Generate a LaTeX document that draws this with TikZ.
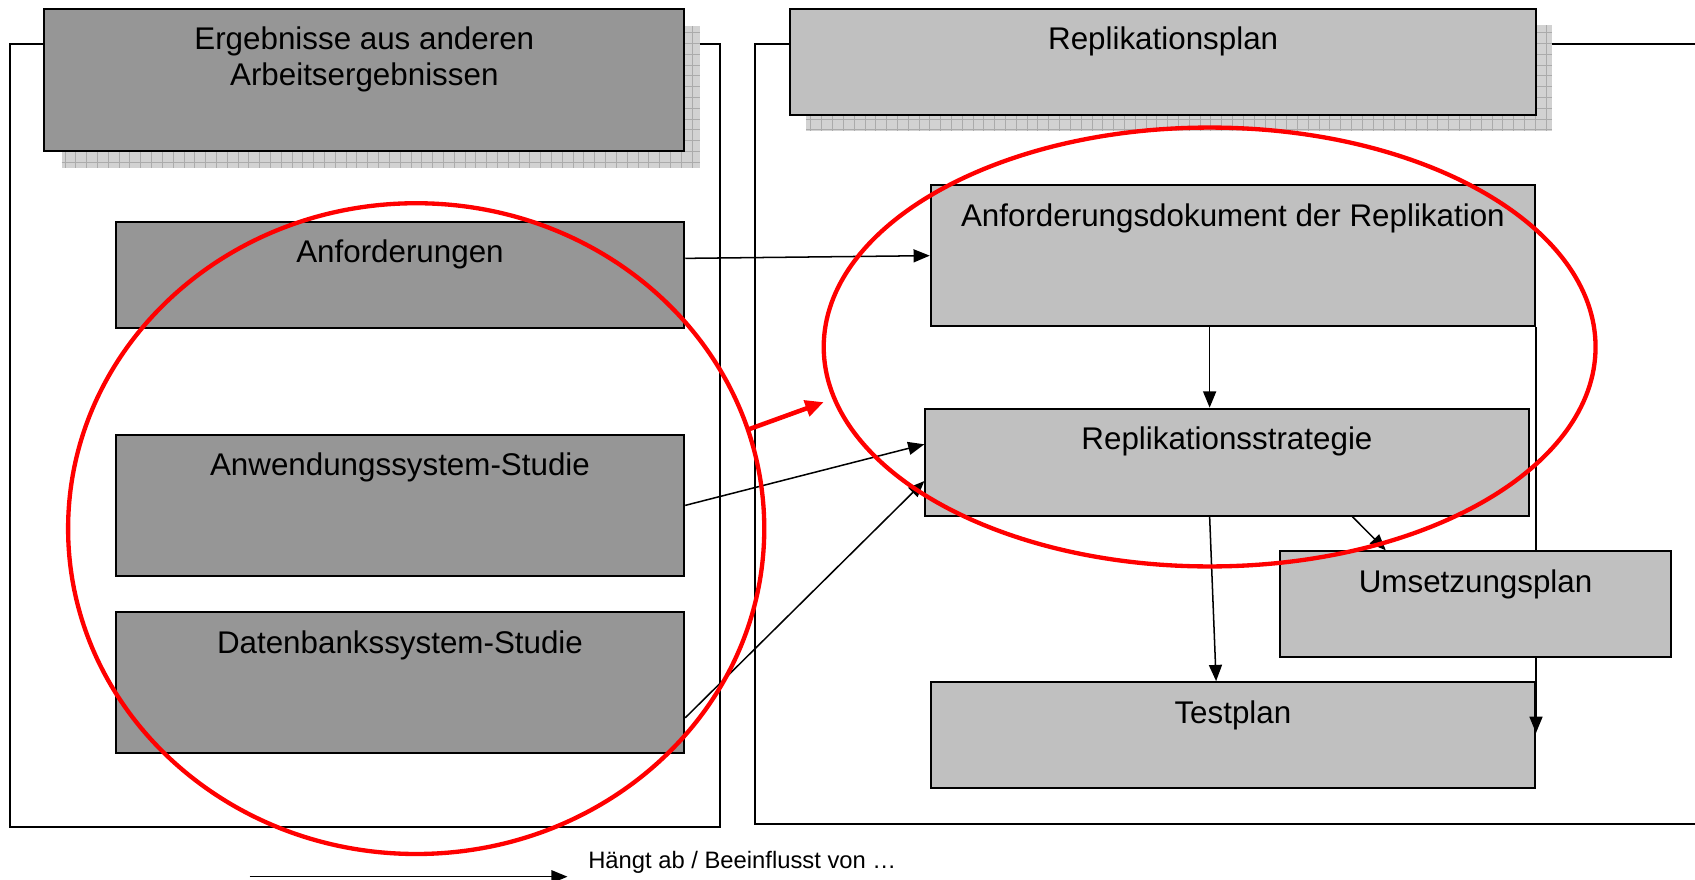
\documentclass[tikz,border=0pt]{standalone}
\usepackage{fontspec}
\setmainfont{Liberation Sans}
\usetikzlibrary{arrows.meta,calc}
\definecolor{dgray}{HTML}{969696}
\definecolor{lgray}{HTML}{C0C0C0}
\definecolor{shd}{HTML}{D2D2D2}
\definecolor{shdline}{HTML}{ABABAB}
\definecolor{myred}{HTML}{FF0000}
\begin{document}
\begin{tikzpicture}[x=1pt,y=-1pt,
  pbox/.style={draw=black, line width=1.8pt, inner sep=0pt, anchor=center},
  darkbox/.style={pbox, fill=dgray},
  lightbox/.style={pbox, fill=lgray},
  cframe/.style={draw=black, line width=1.8pt},
  txt/.style={anchor=north, inner sep=0pt, font=\fontsize{29}{33}\selectfont, align=center},
  conn/.style={draw=black, line width=1.4pt, -{Triangle[length=15pt,width=12pt]}},
  redring/.style={draw=myred, line width=4pt},
  redarrow/.style={draw=myred, line width=4.2pt, -{Triangle[length=17pt,width=15pt]}},
  shadowgrid/.style={draw=shdline, line width=0.5pt}
]
\useasboundingbox (0,0) rectangle (1568,814);
\fill[white] (0,0) rectangle (1568,814);

% container frames
\draw[cframe] (9,41) rectangle (666,765);
\draw[cframe] (1568,41) -- (698,41) -- (698,762) -- (1568,762);

% header shadows
\fill[shd] (57,24) rectangle (648,155);
\draw[shadowgrid, step=10pt] (57,24) grid (648,155);
\fill[shd] (746,23) rectangle (1436,121);
\draw[shadowgrid, step=10pt] (746,23) grid (1436,121);

% headers
\node[darkbox, minimum width=592pt, minimum height=132pt] (hdrL) at (337,74) {};
\node[txt] (hdrLt) at (337,25) {Ergebnisse aus anderen\\Arbeitsergebnissen};
\node[lightbox, minimum width=690pt, minimum height=98pt] (hdrR) at (1076,57) {};
\node[txt] (hdrRt) at (1076,25) {Replikationsplan};

% left boxes
\node[darkbox, minimum width=526pt, minimum height=98pt] (anf) at (370,254) {};
\node[txt] (anft) at (370,222) {Anforderungen};
\node[darkbox, minimum width=526pt, minimum height=131pt] (anw) at (370,467.5) {};
\node[txt] (anwt) at (370,419) {Anwendungssystem-Studie};
\node[darkbox, minimum width=526pt, minimum height=131pt] (db) at (370,631.5) {};
\node[txt] (dbt) at (370,583) {Datenbankssystem-Studie};

% right boxes
\node[lightbox, minimum width=559pt, minimum height=131pt] (ad) at (1140.5,236.5) {};
\node[txt] (adt) at (1140.5,188) {Anforderungsdokument der Replikation};
\node[lightbox, minimum width=558pt, minimum height=99pt] (rs) at (1135,427.5) {};
\node[txt] (rst) at (1135,395) {Replikationsstrategie};
\node[lightbox, minimum width=559pt, minimum height=98pt] (tp) at (1140.5,680) {};
\node[txt] (tpt) at (1140.5,648) {Testplan};

% long arrow behind Umsetzungsplan
\draw[conn] (ad.south east) -- ([yshift=2pt]tp.east);

\node[lightbox, minimum width=362pt, minimum height=98pt] (up) at (1365,559) {};
\node[txt] (upt) at (1365,527) {Umsetzungsplan};

% connectors
\draw[conn] ([yshift=15pt]anf.east) -- (ad.west);
\draw[conn] (anw.east) -- ([yshift=16.5pt]rs.west);
\draw[conn] ([yshift=-32.5pt]db.east) -- ([yshift=-17.5pt]rs.west);
\draw[conn] ([xshift=-21.5pt]ad.south) -- ([xshift=-16pt]rs.north);
\draw[conn] ([xshift=-16pt]rs.south) -- ([xshift=-15.5pt]tp.north);
\draw[conn] ([xshift=116pt]rs.south) -- ([xshift=-83pt]up.north);

% red ellipses and arrow
\draw[redring] (385,489) ellipse [x radius=322, y radius=301];
\draw[redring] (1119,321) ellipse [x radius=357, y radius=203];
\coordinate (ra1) at (693,397);
\coordinate (ra2) at (762,372);
\draw[redarrow] (ra1) -- (ra2);

% legend
\coordinate (legA) at (231,811);
\coordinate (legB) at (525,811);
\draw[conn] (legA) -- (legB);
\node[anchor=west, inner sep=0pt, font=\fontsize{22}{26}\selectfont] (legt) at (544,798) {Hängt ab / Beeinflusst von …};
\end{tikzpicture}
\end{document}
